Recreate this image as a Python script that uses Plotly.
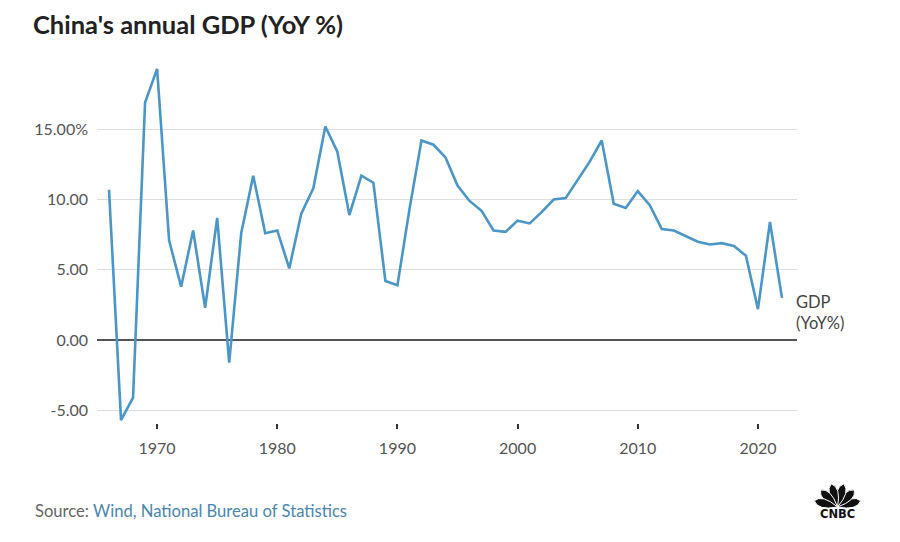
import math
import plotly.graph_objects as go

# China GDP YoY %
years = list(range(1966, 2023))
gdp_yoy = [10.7, -5.7, -4.1, 16.9, 19.3, 7.1, 3.8, 7.8, 2.3, 8.7,
           -1.6, 7.6, 11.7, 7.6, 7.8, 5.1, 9.0, 10.8, 15.2, 13.4,
           8.9, 11.7, 11.2, 4.2, 3.9, 9.3, 14.2, 13.9, 13.0, 11.0,
           9.9, 9.2, 7.8, 7.7, 8.5, 8.3, 9.1, 10.0, 10.1, 11.4,
           12.7, 14.2, 9.7, 9.4, 10.6, 9.6, 7.9, 7.8, 7.4, 7.0,
           6.8, 6.9, 6.7, 6.0, 2.2, 8.4, 3.0]

y_ticks = [-5, 0, 5, 10, 15]
y_labels = ["-5.00", "0.00", "5.00", "10.00", "15.00%"]
x_ticks = [1970, 1980, 1990, 2000, 2010, 2020]

# page has an 8px body margin, so the plot area on screen is 97..797 x 59..423
L, T, W, H = 89, 51, 700, 364
OFF = 8


def to_paper(sx, sy):
    return (sx - OFF - L) / W, 1 - (sy - OFF - T) / H


fig = go.Figure()
fig.add_trace(go.Scatter(x=years, y=gdp_yoy, mode="lines",
                         line=dict(color="#4a96c8", width=2.6),
                         name="GDP (YoY%)", showlegend=False,
                         cliponaxis=False))

fig.add_annotation(x=years[-1], y=gdp_yoy[-1], text="GDP<br>(YoY%)",
                   xref="x", yref="y", xanchor="left", yanchor="middle",
                   xshift=12, yshift=-15, showarrow=False, align="left",
                   font=dict(family="Lato", size=16.5, color="#444"))

fig.update_layout(
    width=900, height=542,
    margin=dict(l=L, r=900 - L - W, t=T, b=542 - T - H),
    paper_bgcolor="white", plot_bgcolor="white",
    font=dict(family="Lato", color="#444"),
    title=dict(text="<b>China's annual GDP (YoY %)</b>", x=25 / 900, y=1 - 17 / 542,
               xanchor="left", yanchor="middle",
               font=dict(family="Lato", size=25.5, color="#222")),
    xaxis=dict(range=[1965.0, 2023.25], tickvals=x_ticks, showgrid=False,
               zeroline=False, showline=False, ticks="outside", ticklen=5,
               tickcolor="#333", tickwidth=1.5, ticklabelstandoff=6,
               tickfont=dict(size=16, color="#555")),
    yaxis=dict(range=[-5.9, 20], tickvals=y_ticks, ticktext=y_labels,
               showgrid=True, gridcolor="#dedede", gridwidth=1,
               zeroline=True, zerolinecolor="#555", zerolinewidth=1.5,
               showline=False, ticks="", ticklabelstandoff=8,
               tickfont=dict(size=16, color="#555")),
)

sx, sy = to_paper(33, 511)
fig.add_annotation(x=sx, y=sy, xref="paper", yref="paper",
                   xanchor="left", yanchor="middle", showarrow=False,
                   text="Source: <span style='color:#4a86b0'>Wind, National Bureau of Statistics</span>",
                   font=dict(family="Lato", size=16.6, color="#666"))

# CNBC peacock logo
cx, cy = 837.5, 507
feather_len, feather_w = 24, 5.5
for k in range(6):
    ang = math.radians(15 + 30 * k)
    ux, uy = math.cos(ang), -math.sin(ang)
    px, py = -uy, ux
    tip = (cx + ux * feather_len, cy + uy * feather_len)
    c1 = (cx + ux * feather_len * 0.75 + px * feather_w * 1.6,
          cy + uy * feather_len * 0.75 + py * feather_w * 1.6)
    c2 = (cx + ux * feather_len * 0.75 - px * feather_w * 1.6,
          cy + uy * feather_len * 0.75 - py * feather_w * 1.6)
    pts = [to_paper(*p) for p in [(cx, cy), c1, tip, c2]]
    path = "M{0[0]},{0[1]} Q{1[0]},{1[1]} {2[0]},{2[1]} Q{3[0]},{3[1]} {0[0]},{0[1]} Z".format(*pts)
    fig.add_shape(type="path", path=path, xref="paper", yref="paper",
                  fillcolor="#111", line=dict(color="white", width=1))
lx, ly = to_paper(837.5, 514)
fig.add_annotation(x=lx, y=ly, xref="paper", yref="paper",
                   xanchor="center", yanchor="middle", showarrow=False,
                   text="<b>CNBC</b>",
                   font=dict(family="DejaVu Sans", size=11.5, color="#111"))

fig.write_html("out.html")
